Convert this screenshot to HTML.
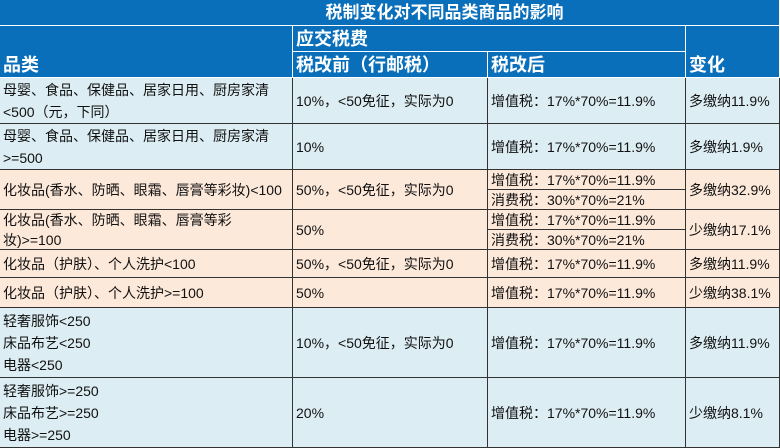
<!DOCTYPE html><html><head><meta charset="utf-8"><style>
body{margin:0;width:780px;height:439px;overflow:hidden;background:#fff;font-family:"Liberation Sans","Noto Sans CJK SC",sans-serif;font-size:14px;color:#111}
.c{position:absolute;box-sizing:border-box;border-right:1px solid #333;border-bottom:1px solid #333;padding-left:3px;display:flex;align-items:center;line-height:22px;white-space:nowrap}
.h{background:#0a6fba;color:#fff;font-weight:bold;font-size:18px;border-color:#fff}
.b{background:#dcedf3}.p{background:#fde9da}
</style></head><body>
<div class="c h" style="left:0;top:0;width:780px;height:26px;justify-content:center;padding-left:110px;font-size:17px">税制变化对不同品类商品的影响</div>
<div class="c h" style="left:0;top:26px;width:293px;height:52px;align-items:flex-end;padding-bottom:1px">品类</div>
<div class="c h" style="left:293px;top:26px;width:393px;height:26px">应交税费</div>
<div class="c h" style="left:293px;top:52px;width:195px;height:26px">税改前（行邮税）</div>
<div class="c h" style="left:488px;top:52px;width:198px;height:26px">税改后</div>
<div class="c h" style="left:686px;top:26px;width:94px;height:52px;align-items:flex-end;padding-bottom:1px">变化</div>

<div class="c b" style="left:0;top:78px;width:293px;height:46px">母婴、食品、保健品、居家日用、厨房家清<br>&lt;500（元，下同）</div>
<div class="c b" style="left:293px;top:78px;width:195px;height:46px">10%，&lt;50免征，实际为0</div>
<div class="c b" style="left:488px;top:78px;width:198px;height:46px">增值税：17%*70%=11.9%</div>
<div class="c b" style="left:686px;top:78px;width:94px;height:46px">多缴纳11.9%</div>

<div class="c b" style="left:0;top:124px;width:293px;height:46px">母婴、食品、保健品、居家日用、厨房家清<br>&gt;=500</div>
<div class="c b" style="left:293px;top:124px;width:195px;height:46px">10%</div>
<div class="c b" style="left:488px;top:124px;width:198px;height:46px">增值税：17%*70%=11.9%</div>
<div class="c b" style="left:686px;top:124px;width:94px;height:46px">多缴纳1.9%</div>

<div class="c p" style="left:0;top:170px;width:293px;height:40px">化妆品(香水、防晒、眼霜、唇膏等彩妆)&lt;100</div>
<div class="c p" style="left:293px;top:170px;width:195px;height:40px">50%，&lt;50免征，实际为0</div>
<div class="c p" style="left:488px;top:170px;width:198px;height:20px">增值税：17%*70%=11.9%</div>
<div class="c p" style="left:488px;top:190px;width:198px;height:20px">消费税：30%*70%=21%</div>
<div class="c p" style="left:686px;top:170px;width:94px;height:40px">多缴纳32.9%</div>

<div class="c p" style="left:0;top:210px;width:293px;height:40px;line-height:20px">化妆品(香水、防晒、眼霜、唇膏等彩<br>妆)&gt;=100</div>
<div class="c p" style="left:293px;top:210px;width:195px;height:40px">50%</div>
<div class="c p" style="left:488px;top:210px;width:198px;height:20px">增值税：17%*70%=11.9%</div>
<div class="c p" style="left:488px;top:230px;width:198px;height:20px">消费税：30%*70%=21%</div>
<div class="c p" style="left:686px;top:210px;width:94px;height:40px">少缴纳17.1%</div>

<div class="c p" style="left:0;top:250px;width:293px;height:28px">化妆品（护肤）、个人洗护&lt;100</div>
<div class="c p" style="left:293px;top:250px;width:195px;height:28px">50%，&lt;50免征，实际为0</div>
<div class="c p" style="left:488px;top:250px;width:198px;height:28px">增值税：17%*70%=11.9%</div>
<div class="c p" style="left:686px;top:250px;width:94px;height:28px">多缴纳11.9%</div>

<div class="c p" style="left:0;top:278px;width:293px;height:30px">化妆品（护肤）、个人洗护&gt;=100</div>
<div class="c p" style="left:293px;top:278px;width:195px;height:30px">50%</div>
<div class="c p" style="left:488px;top:278px;width:198px;height:30px">增值税：17%*70%=11.9%</div>
<div class="c p" style="left:686px;top:278px;width:94px;height:30px">少缴纳38.1%</div>

<div class="c b" style="left:0;top:308px;width:293px;height:70px">轻奢服饰&lt;250<br>床品布艺&lt;250<br>电器&lt;250</div>
<div class="c b" style="left:293px;top:308px;width:195px;height:70px">10%，&lt;50免征，实际为0</div>
<div class="c b" style="left:488px;top:308px;width:198px;height:70px">增值税：17%*70%=11.9%</div>
<div class="c b" style="left:686px;top:308px;width:94px;height:70px">多缴纳11.9%</div>

<div class="c b" style="left:0;top:378px;width:293px;height:70px">轻奢服饰&gt;=250<br>床品布艺&gt;=250<br>电器&gt;=250</div>
<div class="c b" style="left:293px;top:378px;width:195px;height:70px">20%</div>
<div class="c b" style="left:488px;top:378px;width:198px;height:70px">增值税：17%*70%=11.9%</div>
<div class="c b" style="left:686px;top:378px;width:94px;height:70px">少缴纳8.1%</div>
</body></html>
